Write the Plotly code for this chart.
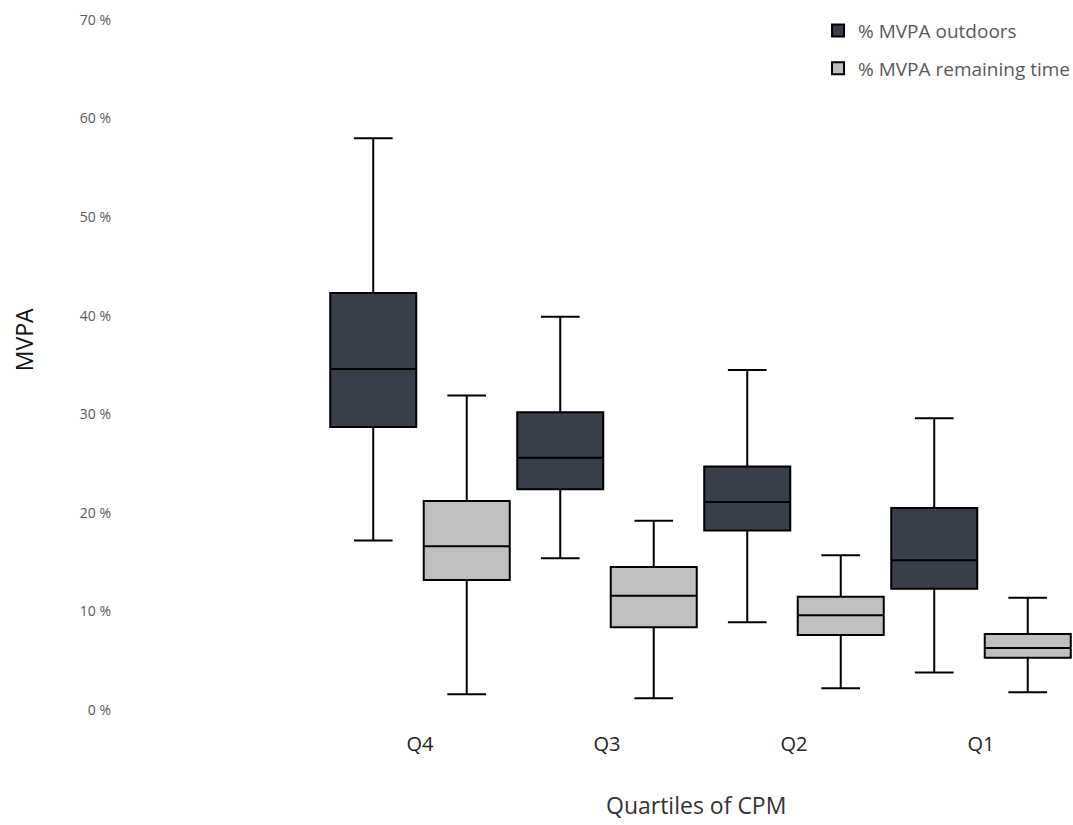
import plotly.graph_objects as go

categories = ["Q4", "Q3", "Q2", "Q1"]

out_lower = [17.2, 15.4, 8.9, 3.8]
out_q1 = [28.7, 22.4, 18.2, 12.3]
out_median = [34.6, 25.6, 21.1, 15.2]
out_q3 = [42.3, 30.2, 24.7, 20.5]
out_upper = [58.0, 39.9, 34.5, 29.6]

rem_lower = [1.6, 1.2, 2.2, 1.8]
rem_q1 = [13.2, 8.4, 7.6, 5.3]
rem_median = [16.6, 11.6, 9.6, 6.3]
rem_q3 = [21.2, 14.5, 11.5, 7.7]
rem_upper = [31.9, 19.2, 15.7, 11.4]

series_names = ["% MVPA outdoors", "% MVPA remaining time"]
y_ticks = [0, 10, 20, 30, 40, 50, 60, 70]
y_ticktext = [f"{v} %" for v in y_ticks]

fig = go.Figure()
fig.add_trace(go.Box(
    name=series_names[0], x=categories,
    lowerfence=out_lower, q1=out_q1, median=out_median, q3=out_q3, upperfence=out_upper,
    fillcolor="#383e4a", line=dict(color="#000000", width=2),
    whiskerwidth=0.45, legendgroup="a", boxpoints=False,
))
fig.add_trace(go.Box(
    name=series_names[1], x=categories,
    lowerfence=rem_lower, q1=rem_q1, median=rem_median, q3=rem_q3, upperfence=rem_upper,
    fillcolor="#bfbfbf", line=dict(color="#000000", width=2),
    whiskerwidth=0.45, legendgroup="b", boxpoints=False,
))

fig.update_layout(
    width=1073, height=825,
    margin=dict(l=112, r=0, t=20, b=115, autoexpand=False),
    paper_bgcolor="white", plot_bgcolor="white",
    boxmode="group", boxgap=0, boxgroupgap=0.08,
    font=dict(family="Open Sans, sans-serif", color="#222222"),
    legend=dict(
        x=0.7347, y=1.012, xanchor="left", yanchor="top",
        font=dict(size=19, color="#595959"),
        tracegroupgap=10, bgcolor="rgba(0,0,0,0)",
    ),
    xaxis=dict(
        type="category", range=[-1.647, 3.492],
        showgrid=False, showline=False, zeroline=False, ticks="",
        tickfont=dict(size=20, color="#222222"), ticklabelstandoff=20,
    ),
    yaxis=dict(
        range=[0, 70], tickmode="array", tickvals=y_ticks, ticktext=y_ticktext,
        showgrid=False, showline=False, zeroline=False, ticks="",
        tickfont=dict(size=14, color="#595959"),
    ),
    annotations=[
        dict(text="Quartiles of CPM", xref="paper", yref="paper",
             x=0.6077, y=-0.1377, xanchor="center", yanchor="middle",
             showarrow=False, font=dict(size=23, color="#333333")),
        dict(text="MVPA", xref="paper", yref="paper",
             x=-0.0915, y=0.536, xanchor="center", yanchor="middle",
             textangle=-90, showarrow=False, font=dict(size=23, color="#111111")),
    ],
)

fig.write_html(
    "out.html",
    config={"displayModeBar": False},
    post_script="document.body.style.margin='0';document.body.style.overflow='hidden';",
)
